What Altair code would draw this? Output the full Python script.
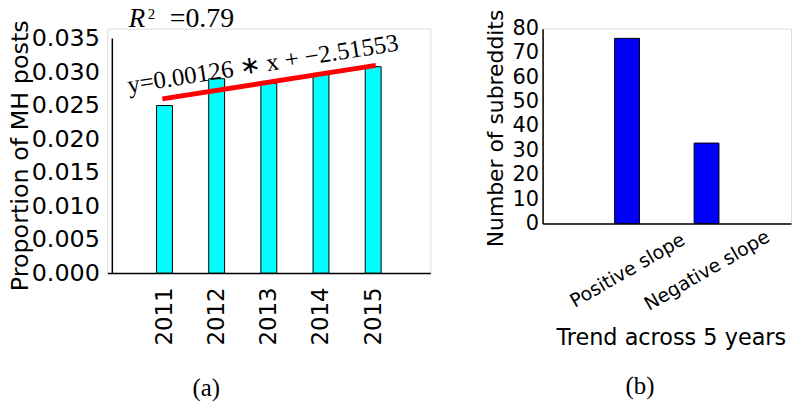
import altair as alt
import pandas as pd

# ---------------- data: panel (a) ----------------
years = [2011, 2012, 2013, 2014, 2015]
proportions = [0.0250, 0.0290, 0.0283, 0.0298, 0.0308]
fit_years = [2010.96, 2015.05]
fit_values = [0.0260, 0.0310]
y_ticks_a = [0.000, 0.005, 0.010, 0.015, 0.020, 0.025, 0.030, 0.035]
equation_text = "y=0.00126 \u2217 x + \u22122.51553"
r_letter = "R"
r_sup = "2"
r2_text = "=0.79"
label_a = "(a)"

# ---------------- data: panel (b) ----------------
categories = ["Positive slope", "Negative slope"]
counts = [76, 33]
y_ticks_b = [0, 10, 20, 30, 40, 50, 60, 70, 80]
label_b = "(b)"

SANS = "DejaVu Sans"
SERIF = "Liberation Serif"

# ================= panel (a) =================
df_a = pd.DataFrame({"year": years, "prop": proportions})
df_fit = pd.DataFrame({"year": fit_years, "prop": fit_values})

xa = alt.X(
    "year:Q",
    scale=alt.Scale(domain=[2010, 2016], nice=False, zero=False),
    axis=alt.Axis(
        values=years, format="d", labelAngle=270, labelAlign="right",
        labelBaseline="middle", labelPadding=14, ticks=False, tickSize=0,
        grid=False, domainColor="black", domainWidth=1.5,
        labelFontSize=23, labelColor="black", labelFont=SANS,
    ),
    title=None,
)
ya = alt.Y(
    "prop:Q",
    scale=alt.Scale(domain=[0, 0.03648], nice=False),
    axis=alt.Axis(
        values=y_ticks_a, format=".3f", labelFontSize=24, labelPadding=8,
        labelColor="black", labelFont=SANS,
        ticks=False, tickSize=0, domain=False, grid=False,
        title="Proportion of MH posts", titleFontSize=24, titleFontWeight="normal",
        titleFont=SANS, titleColor="black",
        titleX=-87, titleY=127.5, titleAngle=270, titleAlign="center",
        titleBaseline="middle",
    ),
)

bars_a = alt.Chart(df_a).mark_bar(size=16, fill="#00FFFF", stroke="black", strokeWidth=1).encode(x=xa, y=ya)
fit_line = alt.Chart(df_fit).mark_line(color="#FF0000", strokeWidth=5).encode(x=xa, y=ya)

yaxis_line = alt.Chart(pd.DataFrame({"year": [2010], "prop": [0.0], "top": [0.035]})).mark_rule(
    color="black", strokeWidth=1.5
).encode(x=xa, y=ya, y2="top:Q")

eq = alt.Chart(pd.DataFrame({"year": [2010.315], "prop": [0.02684], "t": [equation_text]})).mark_text(
    font=SERIF, fontSize=25, angle=351, align="left", baseline="alphabetic", color="black"
).encode(x=xa, y=ya, text="t:N")

r_a = alt.Chart(pd.DataFrame({"year": [2010.315], "prop": [0.03678], "t": [r_letter]})).mark_text(
    font=SERIF, fontSize=27, fontStyle="italic", align="left", baseline="alphabetic", color="black"
).encode(x=xa, y=ya, text="t:N")
r_b = alt.Chart(pd.DataFrame({"year": [2010.68], "prop": [0.03785], "t": [r_sup]})).mark_text(
    font=SERIF, fontSize=15, align="left", baseline="alphabetic", color="black"
).encode(x=xa, y=ya, text="t:N")
r_c = alt.Chart(pd.DataFrame({"year": [2011.1], "prop": [0.03678], "t": [r2_text]})).mark_text(
    font=SERIF, fontSize=28, align="left", baseline="alphabetic", color="black"
).encode(x=xa, y=ya, text="t:N")

cap_a = alt.Chart(pd.DataFrame({"year": [2011.8], "prop": [-0.0172], "t": [label_a]})).mark_text(
    font=SERIF, fontSize=25, align="center", baseline="middle", color="black"
).encode(x=xa, y=ya, text="t:N")

panel_a = alt.layer(bars_a, fit_line, yaxis_line, eq, r_a, r_b, r_c, cap_a).properties(width=325, height=246)

# ================= panel (b) =================
df_b = pd.DataFrame({"pos": list(range(1, len(categories) + 1)), "count": counts})
label_expr = "[''," + ",".join("'" + c + "'" for c in categories) + "][datum.value]"

xb = alt.X(
    "pos:Q",
    scale=alt.Scale(domain=[0, 3], nice=False, zero=False),
    axis=alt.Axis(
        values=list(range(1, len(categories) + 1)), labelExpr=label_expr,
        labelAngle=330, labelAlign="center", labelBaseline="middle",
        labelPadding=47, ticks=False, tickSize=0, grid=False,
        domainColor="black", domainWidth=1.5,
        labelFontSize=19, labelColor="black", labelFont=SANS,
        title="Trend across 5 years", titleFontSize=22.5, titleFontWeight="normal",
        titleFont=SANS, titleColor="black",
        titleX=129, titleY=122, titleAlign="center", titleBaseline="alphabetic",
    ),
)
yb = alt.Y(
    "count:Q",
    scale=alt.Scale(domain=[0, 80], nice=False),
    axis=alt.Axis(
        values=y_ticks_b, labelFontSize=21, labelPadding=4, labelColor="black",
        labelFont=SANS, ticks=False, tickSize=0, grid=False,
        domainColor="black", domainWidth=1.5,
        title="Number of subreddits", titleFontSize=22, titleFontWeight="normal",
        titleFont=SANS, titleColor="black",
        titleX=-47, titleY=100, titleAngle=270, titleAlign="center",
        titleBaseline="middle",
    ),
)

bars_b = alt.Chart(df_b).mark_bar(size=25, fill="#0000FF", stroke="black", strokeWidth=1).encode(x=xb, y=yb)
cap_b = alt.Chart(pd.DataFrame({"pos": [1.162], "count": [-67.0], "t": [label_b]})).mark_text(
    font=SERIF, fontSize=25, align="center", baseline="middle", color="black"
).encode(x=xb, y=yb, text="t:N")

panel_b = alt.layer(bars_b, cap_b).properties(width=250, height=196)

chart = alt.hconcat(panel_a, panel_b, spacing=113, bounds="flush").properties(
    padding={"left": 0, "top": -5.5, "right": 0, "bottom": 0}
).configure_view(stroke=None).configure(background="white")

chart.save("out.html", embed_options={"renderer": "svg", "actions": False})
